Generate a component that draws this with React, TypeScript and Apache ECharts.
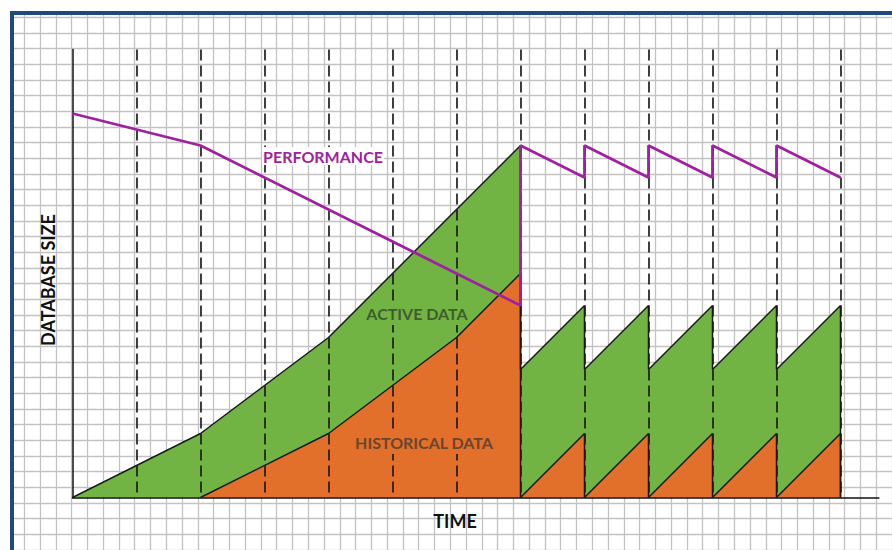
import React, { useEffect, useRef } from "react";
import * as echarts from "echarts";

// Time in "periods" (one dashed line per period), size in grid cells
const activeX = [0, 2, 4, 7, 7, 8, 8, 9, 9, 10, 10, 11, 11, 12, 12];
const activeY = [0, 4, 10, 22, 8, 12, 8, 12, 8, 12, 8, 12, 8, 12, 0];
const histX = [2, 4, 6, 7, 7, 8, 8, 9, 9, 10, 10, 11, 11, 12, 12];
const histY = [0, 4, 10, 14, 0, 4, 0, 4, 0, 4, 0, 4, 0, 4, 0];
const perfX = [0, 2, 7, 7, 8, 8, 9, 9, 10, 10, 11, 11, 12];
const perfY = [24, 22, 12, 22, 20, 22, 20, 22, 20, 22, 20, 22, 20];

const labels = {
  perf: "PERFORMANCE",
  active: "ACTIVE DATA",
  hist: "HISTORICAL DATA",
  yName: "DATABASE SIZE",
  xName: "TIME",
};

const GREEN = "#72b444";
const ORANGE = "#e2702a";
const PURPLE = "#a020a2";
const FONT = "Lato, 'Open Sans', sans-serif";

const pairs = (xs: number[], ys: number[]) => xs.map((x, i) => [x, ys[i]]);

export default function App() {
  const ref = useRef<HTMLDivElement>(null);
  useEffect(() => {
    const chart = echarts.init(ref.current!, null, { renderer: "svg" });
    const hidden = { axisTick: { show: false }, axisLabel: { show: false } };
    chart.setOption({
      animation: false,
      backgroundColor: "#ffffff",
      grid: [
        { left: 72.5, right: 13.1, top: 49.5, bottom: 52.5 },
        { left: 8.5, width: 896, top: 1.5, height: 560 },
      ],
      xAxis: [
        {
          gridIndex: 0,
          type: "value",
          min: 0,
          max: 12.6,
          interval: 1,
          z: 3,
          ...hidden,
          axisLine: { show: true, onZero: false, lineStyle: { color: "#111", width: 1.5 } },
          splitLine: {
            show: true,
            showMinLine: false,
            showMaxLine: false,
            lineStyle: { color: "#1e1e1e", width: 1.7, type: [11, 5] },
          },
        },
        {
          gridIndex: 1,
          type: "value",
          min: 0,
          max: 896,
          interval: 16,
          ...hidden,
          axisLine: { show: false },
          splitLine: { show: true, lineStyle: { color: "#c2c2c2", width: 1.3 } },
        },
      ],
      yAxis: [
        {
          gridIndex: 0,
          type: "value",
          min: 0,
          max: 28,
          z: 3,
          ...hidden,
          axisLine: { show: true, lineStyle: { color: "#111", width: 1.5 } },
          splitLine: { show: false },
        },
        {
          gridIndex: 1,
          type: "value",
          min: 0,
          max: 560,
          interval: 16,
          ...hidden,
          axisLine: { show: false },
          splitLine: { show: true, lineStyle: { color: "#c2c2c2", width: 1.3 } },
        },
      ],
      series: [
        {
          type: "line",
          xAxisIndex: 0,
          yAxisIndex: 0,
          data: pairs(activeX, activeY),
          symbol: "none",
          lineStyle: { color: "#1a1a1a", width: 1.5 },
          areaStyle: { color: GREEN, opacity: 1 },
          z: 2,
        },
        {
          type: "line",
          xAxisIndex: 0,
          yAxisIndex: 0,
          data: pairs(histX, histY),
          symbol: "none",
          lineStyle: { color: "#1a1a1a", width: 1.5 },
          areaStyle: { color: ORANGE, opacity: 1 },
          z: 2,
        },
        {
          type: "line",
          xAxisIndex: 0,
          yAxisIndex: 0,
          data: pairs(perfX, perfY),
          symbol: "none",
          lineStyle: { color: PURPLE, width: 2.8 },
          z: 6,
        },
      ],
      graphic: [
        { type: "rect", z: 100, shape: { x: 0, y: 0, width: 892, height: 11 }, style: { fill: "#fff" } },
        { type: "rect", z: 100, shape: { x: 0, y: 0, width: 10, height: 550 }, style: { fill: "#fff" } },
        { type: "rect", z: 101, shape: { x: 10, y: 11, width: 882, height: 4 }, style: { fill: "#1f4a80" } },
        { type: "rect", z: 101, shape: { x: 10, y: 11, width: 4, height: 539 }, style: { fill: "#1f4a80" } },
        {
          type: "text", z: 50, x: 323, y: 156,
          style: { text: labels.perf, font: `bold 16px ${FONT}`, fill: PURPLE, align: "center", verticalAlign: "middle", backgroundColor: "#fff", padding: [1, 1] },
        },
        {
          type: "text", z: 50, x: 417, y: 313,
          style: { text: labels.active, font: `bold 16px ${FONT}`, fill: "#3e5e2c", align: "center", verticalAlign: "middle", backgroundColor: GREEN, padding: [4, 0] },
        },
        {
          type: "text", z: 50, x: 424, y: 442,
          style: { text: labels.hist, font: `bold 16px ${FONT}`, fill: "#6a4530", align: "center", verticalAlign: "middle", backgroundColor: ORANGE, padding: [4, 1] },
        },
        {
          type: "text", z: 50, x: 48, y: 280, rotation: Math.PI / 2,
          style: { text: labels.yName, font: `bold 18px ${FONT}`, fill: "#111", align: "center", verticalAlign: "middle" },
        },
        {
          type: "text", z: 50, x: 455, y: 521,
          style: { text: labels.xName, font: `bold 18px ${FONT}`, fill: "#111", align: "center", verticalAlign: "middle" },
        },
      ],
    });
    return () => chart.dispose();
  }, []);
  return (
    <div
      ref={ref}
      style={{ position: "absolute", left: 0, top: 0, width: 892, height: 550, background: "#fff" }}
    />
  );
}
